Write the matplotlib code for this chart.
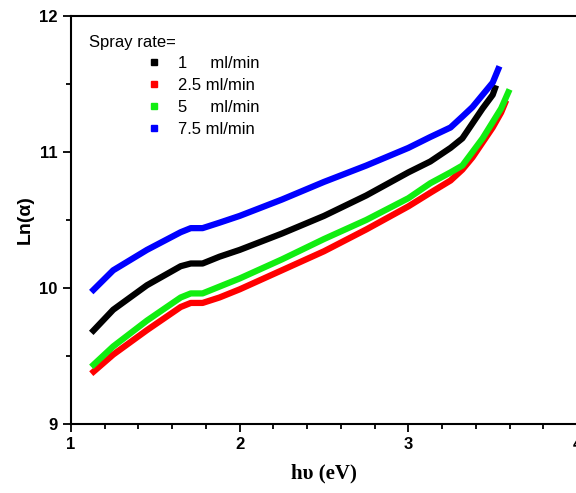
import numpy as np
import matplotlib.pyplot as plt
from matplotlib.ticker import MultipleLocator

# photon energy (eV) and Ln(alpha)
x_1 = [1.12, 1.25, 1.45, 1.65, 1.71, 1.78, 1.88, 2.0, 2.25, 2.5, 2.75, 3.0,
       3.13, 3.25, 3.32, 3.38, 3.44, 3.50, 3.52]
ln_1 = [9.67, 9.84, 10.02, 10.16, 10.18, 10.18, 10.23, 10.28, 10.40, 10.53, 10.68, 10.85,
        10.93, 11.03, 11.10, 11.21, 11.32, 11.42, 11.49]

x_25 = [1.12, 1.25, 1.45, 1.65, 1.71, 1.78, 1.88, 2.0, 2.25, 2.5, 2.75, 3.0,
        3.13, 3.25, 3.32, 3.38, 3.44, 3.50, 3.55, 3.58]
ln_25 = [9.37, 9.51, 9.69, 9.86, 9.89, 9.89, 9.93, 9.99, 10.13, 10.27, 10.43, 10.60,
         10.70, 10.79, 10.87, 10.96, 11.07, 11.18, 11.29, 11.38]

x_5 = [1.12, 1.25, 1.45, 1.65, 1.71, 1.78, 1.88, 2.0, 2.25, 2.5, 2.75, 3.0,
       3.13, 3.25, 3.32, 3.38, 3.44, 3.50, 3.55, 3.60]
ln_5 = [9.42, 9.57, 9.76, 9.93, 9.96, 9.96, 10.01, 10.07, 10.21, 10.36, 10.50, 10.66,
        10.77, 10.85, 10.90, 11.00, 11.10, 11.22, 11.32, 11.46]

x_75 = [1.12, 1.25, 1.45, 1.65, 1.71, 1.78, 1.88, 2.0, 2.25, 2.5, 2.75, 3.0,
        3.13, 3.25, 3.32, 3.38, 3.44, 3.50, 3.54]
ln_75 = [9.97, 10.13, 10.28, 10.41, 10.44, 10.44, 10.48, 10.53, 10.65, 10.78, 10.90, 11.03,
         11.11, 11.18, 11.26, 11.33, 11.42, 11.51, 11.63]

labels = ["1     ml/min", "2.5 ml/min", "5     ml/min", "7.5 ml/min"]
colors = ["black", "#ff0000", "#11ee11", "#0000ff"]

plt.rcParams['font.family'] = ['Liberation Sans', 'DejaVu Sans']

fig = plt.figure(figsize=(5.76, 4.93), dpi=100)
ax = fig.add_axes([0.1233, 0.14, 0.8785, 0.8276])

series = [(x_1, ln_1), (x_25, ln_25), (x_5, ln_5), (x_75, ln_75)]
for (xs, ys), c, lab in zip(series, colors, labels):
    ax.plot(xs, ys, color=c, lw=4.5, solid_capstyle='butt', solid_joinstyle='round')
    ax.plot([], [], 's', color=c, ms=4, label=lab)

ax.set_xlim(1, 4)
ax.set_ylim(9, 12)
ax.xaxis.set_major_locator(MultipleLocator(1))
ax.xaxis.set_minor_locator(MultipleLocator(0.2))
ax.yaxis.set_major_locator(MultipleLocator(1))
ax.yaxis.set_minor_locator(MultipleLocator(0.5))
ax.tick_params(which='both', direction='out', width=1.3, top=False, right=False)
ax.tick_params(which='major', length=6, labelsize=12)
ax.tick_params(which='minor', length=3.5)
for t in ax.get_xticklabels() + ax.get_yticklabels():
    t.set_fontweight('bold')
for s in ['left', 'bottom', 'top']:
    ax.spines[s].set_linewidth(1.5)
ax.spines['right'].set_visible(False)

ax.set_ylabel('Ln(α)', fontsize=14, fontweight='bold', labelpad=4)
ax.set_xlabel('hυ (eV)', fontsize=15, fontweight='bold',
              family=['Liberation Serif', 'DejaVu Serif'], labelpad=8)

ax.text(0.036, 0.925, 'Spray rate=', transform=ax.transAxes, fontsize=12)
ax.legend(loc='upper left', bbox_to_anchor=(0.135, 0.922), frameon=False,
          fontsize=12, handlelength=0.8, handletextpad=1.0, labelspacing=0.42,
          borderpad=0)

fig.savefig('out.png', dpi=100)
